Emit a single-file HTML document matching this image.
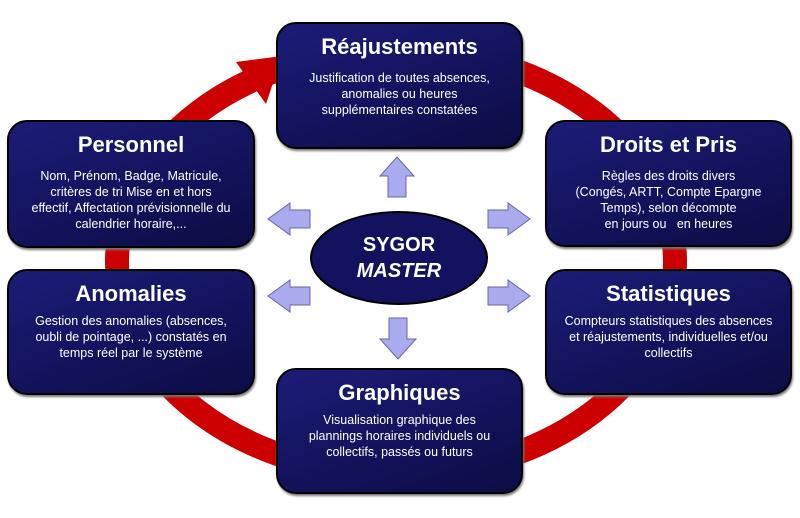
<!DOCTYPE html>
<html><head><meta charset="utf-8"><style>
body{margin:0;width:800px;height:518px;background:#fff;position:relative;overflow:hidden;font-family:"Liberation Sans",sans-serif}
.b{position:absolute;box-sizing:border-box;border:2px solid #000;border-radius:20px;background:linear-gradient(160deg,#1c1c78 0%,#12125a 60%,#0c0c44 100%);color:#fff;text-align:center;box-shadow:1px 2px 2px #777}
.b h{display:block;font-weight:bold;font-size:22px;margin-top:10px}
.b p{margin:10px 4px 0;font-size:12.5px;line-height:16px}
</style></head><body>
<svg width="800" height="518" style="position:absolute;left:0;top:0">
<ellipse cx="396" cy="262" rx="279" ry="212" fill="none" stroke="#cc0000" stroke-width="24"/>
<polygon points="236,62 282,56 266,104" fill="#cc0000"/>
<g fill="#aaaaee" stroke="#6666aa" stroke-width="1">
<polygon points="388,197 406,197 406,176 414,176 397,157 380,176 388,176"/>
<polygon points="310,210 290,210 290,203 268,219 290,235 290,228 310,228"/>
<polygon points="310,287 290,287 290,280 268,296 290,312 290,305 310,305"/>
<polygon points="488,210 508,210 508,203 530,219 508,235 508,228 488,228"/>
<polygon points="488,287 508,287 508,280 530,296 508,312 508,305 488,305"/>
<polygon points="389,318 407,318 407,339 416,339 398,359 380,339 389,339"/>
</g>
<ellipse cx="399" cy="258" rx="88" ry="46" fill="#12125e" stroke="#000" stroke-width="2"/>
<text x="399" y="251" text-anchor="middle" fill="#fff" font-family="Liberation Sans" font-weight="bold" font-size="20">SYGOR</text>
<text x="399" y="277" text-anchor="middle" fill="#fff" font-family="Liberation Sans" font-weight="bold" font-style="italic" font-size="20">MASTER</text>
</svg>
<div class="b" style="left:276px;top:22px;width:247px;height:127px"><h>Réajustements</h><p>Justification de toutes absences,<br>anomalies ou heures<br>supplémentaires constatées</p></div>
<div class="b" style="left:7px;top:120px;width:248px;height:128px"><h>Personnel</h><p>Nom, Prénom, Badge, Matricule,<br>critères de tri Mise en et hors<br>effectif, Affectation prévisionnelle du<br>calendrier horaire,...</p></div>
<div class="b" style="left:545px;top:120px;width:247px;height:127px"><h>Droits et Pris</h><p>Règles des droits divers<br>(Congés, ARTT, Compte Epargne<br>Temps), selon décompte<br>en jours ou &nbsp; en heures</p></div>
<div class="b" style="left:7px;top:269px;width:248px;height:126px"><h>Anomalies</h><p style="margin-top:6px">Gestion des anomalies (absences,<br>oubli de pointage, ...) constatés en<br>temps réel par le système</p></div>
<div class="b" style="left:545px;top:269px;width:247px;height:126px"><h>Statistiques</h><p style="margin-top:6px">Compteurs statistiques des absences<br>et réajustements, individuelles et/ou<br>collectifs</p></div>
<div class="b" style="left:276px;top:368px;width:247px;height:126px"><h>Graphiques</h><p style="margin-top:6px">Visualisation graphique des<br>plannings horaires individuels ou<br>collectifs, passés ou futurs</p></div>
</body></html>
